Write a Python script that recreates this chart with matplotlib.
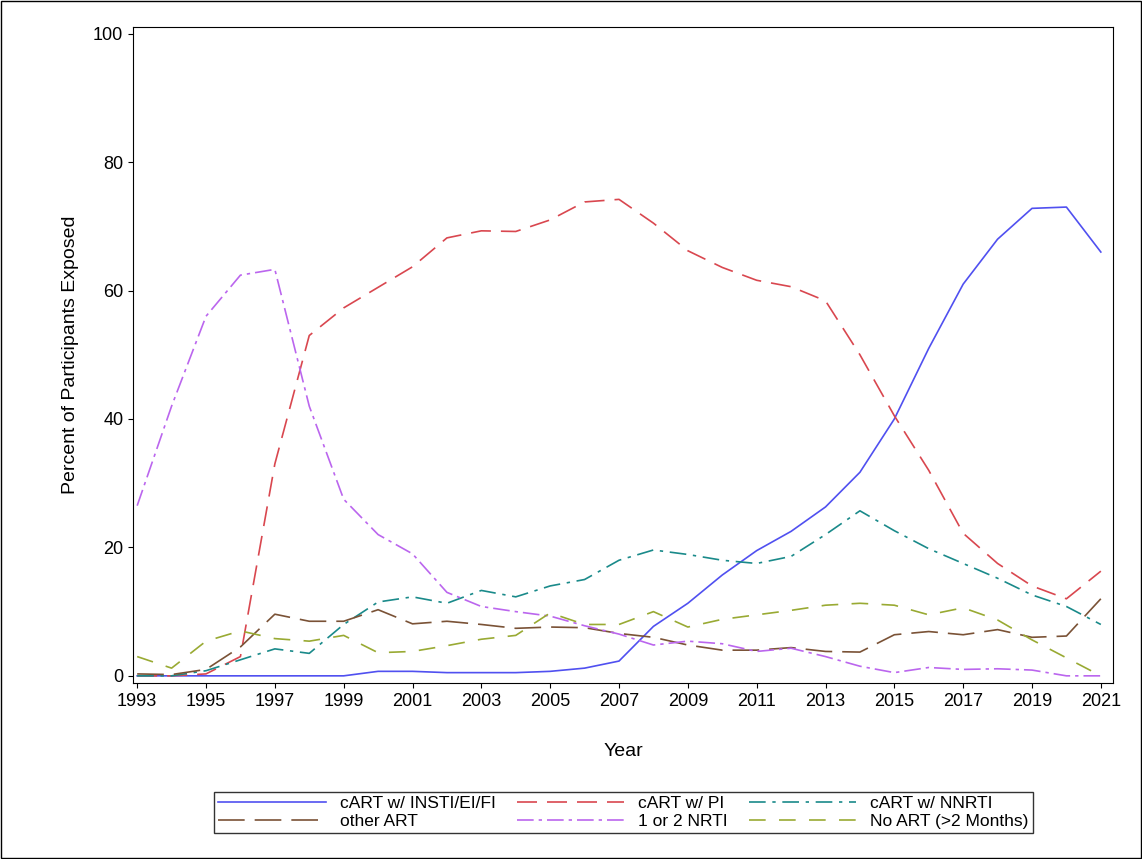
import matplotlib
matplotlib.use("Agg")
import matplotlib.pyplot as plt
from matplotlib.patches import Rectangle

plt.rcParams['font.family'] = ['Liberation Sans', 'DejaVu Sans']

years = list(range(1993, 2022))
insti = [0, 0, 0, 0, 0, 0, 0, 0.7, 0.7, 0.5, 0.5, 0.5, 0.7, 1.2, 2.3, 7.7, 11.3, 15.7, 19.5, 22.5,
         26.3, 31.7, 40, 51, 61, 68, 72.8, 73, 66]
pi = [0, 0, 0.3, 3, 33, 53, 57.3, 60.5, 63.7, 68.2, 69.3, 69.2, 71, 73.8, 74.2, 70.5, 66.2, 63.6,
      61.6, 60.6, 58.4, 50, 40.5, 32, 22.2, 17.5, 14, 12, 16.3]
nnrti = [0, 0, 0.8, 2.5, 4.2, 3.5, 8, 11.5, 12.3, 11.3, 13.3, 12.3, 14, 15, 18, 19.6, 18.9, 18,
         17.5, 18.6, 22, 25.7, 22.6, 19.8, 17.5, 15.2, 12.6, 10.8, 8]
other = [0.3, 0.2, 1, 4.5, 9.6, 8.5, 8.5, 10.3, 8.1, 8.5, 8, 7.4, 7.6, 7.5, 6.6, 6, 4.8, 4, 4,
         4.4, 3.8, 3.7, 6.4, 6.9, 6.4, 7.2, 6, 6.2, 12]
nrti = [26.5, 42, 56, 62.4, 63.3, 42, 27.5, 22, 19, 13, 10.8, 10, 9.3, 7.8, 6.5, 4.8, 5.4, 5,
        3.8, 4.3, 3, 1.5, 0.5, 1.3, 1, 1.1, 0.9, 0, 0]
noart = [3, 1.2, 5.4, 7, 5.8, 5.4, 6.3, 3.6, 3.8, 4.7, 5.7, 6.3, 9.8, 8, 8, 10, 7.6, 8.8, 9.5,
         10.2, 11, 11.3, 11, 9.5, 10.6, 8.7, 5.6, 2.8, 0]

fig = plt.figure(figsize=(11.42, 8.59), dpi=100)
ax = fig.add_axes([0.1165, 0.205, 0.858, 0.764])

l1, = ax.plot(years, insti, color="#5050f0", lw=1.2, label="cART w/ INSTI/EI/FI")
l2, = ax.plot(years, pi, color="#d9474f", lw=1.2, dashes=(12, 6), label="cART w/ PI")
l3, = ax.plot(years, nnrti, color="#1a8a8a", lw=1.2, dashes=(10, 4, 2, 4), label="cART w/ NNRTI")
l4, = ax.plot(years, other, color="#7a5236", lw=1.2, dashes=(16, 6), label="other ART")
l5, = ax.plot(years, nrti, color="#bb66ee", lw=1.2, dashes=(10, 3, 2, 3), label="1 or 2 NRTI")
l6, = ax.plot(years, noart, color="#99aa33", lw=1.2, dashes=(10, 8), label="No ART (>2 Months)")

ax.set_xlim(1992.88, 2021.35)
ax.set_ylim(-1.1, 101.1)
ax.set_xticks(range(1993, 2022, 2))
ax.set_yticks(range(0, 101, 20))
ax.tick_params(labelsize=13)
ax.set_xlabel("Year", fontsize=14, labelpad=24)
ax.set_ylabel("Percent of Participants Exposed", fontsize=14, labelpad=10)

# column-major fill, so interleave to get row-major order
handles = [l1, l4, l2, l5, l3, l6]
fig.legend(handles, [h.get_label() for h in handles], loc="lower center",
           bbox_to_anchor=(0.546, 0.02), ncol=3, fontsize=12.5,
           frameon=True, fancybox=False, edgecolor="black", handlelength=6.2,
           borderpad=0.25, labelspacing=0.15, columnspacing=1.2)
fig.patches.append(Rectangle((0.001, 0.001), 0.998, 0.998, transform=fig.transFigure,
                             fill=False, edgecolor="black", lw=1))
fig.savefig("out.png", dpi=100)
